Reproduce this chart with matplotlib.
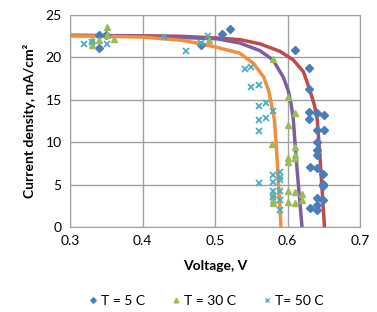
import matplotlib
matplotlib.use('Agg')
import matplotlib.pyplot as plt
from matplotlib.lines import Line2D

plt.rcParams['font.family'] = ['Lato', 'DejaVu Sans']

# measured points
T5_V = [0.340, 0.340, 0.349, 0.480, 0.510, 0.520, 0.610, 0.630, 0.630, 0.630, 0.640, 0.650,
        0.630, 0.640, 0.650, 0.640, 0.640, 0.641, 0.631, 0.640, 0.649, 0.649, 0.649, 0.640,
        0.649, 0.631, 0.640, 0.640]
T5_J = [22.7, 21.1, 22.6, 21.5, 22.8, 23.3, 20.9, 18.8, 16.3, 13.6, 13.4, 13.2,
        12.7, 11.4, 11.4, 10.0, 9.1, 8.5, 7.1, 6.9, 6.3, 5.1, 4.8, 3.4,
        3.2, 2.2, 2.0, 2.6]

T30_V = [0.351, 0.351, 0.340, 0.330, 0.360, 0.330, 0.492, 0.580, 0.601, 0.610, 0.601, 0.579,
         0.610, 0.610, 0.601, 0.601, 0.610, 0.601, 0.610, 0.620, 0.580, 0.601, 0.610, 0.620,
         0.580, 0.580]
T30_J = [23.6, 22.6, 22.1, 22.1, 22.2, 21.5, 22.0, 19.8, 15.3, 13.5, 12.0, 9.8,
         9.4, 8.5, 8.1, 7.7, 8.1, 4.3, 4.1, 3.9, 3.2, 3.0, 2.8, 3.2,
         3.9, 2.8]

T50_V = [0.319, 0.330, 0.351, 0.430, 0.460, 0.480, 0.490, 0.541, 0.550, 0.550, 0.560, 0.560,
         0.570, 0.560, 0.570, 0.580, 0.560, 0.561, 0.580, 0.590, 0.580, 0.590, 0.580, 0.590,
         0.580, 0.590, 0.590, 0.590]
T50_J = [21.6, 21.8, 21.6, 22.4, 20.7, 21.7, 22.5, 18.6, 18.9, 16.5, 16.7, 14.3,
         14.6, 12.6, 12.8, 13.7, 11.3, 5.2, 6.1, 6.5, 5.3, 5.5, 4.3, 4.3,
         3.5, 3.2, 2.0, 5.9]

# fitted curves
FIT5_V = [0.30, 0.40, 0.45, 0.50, 0.534, 0.562, 0.590, 0.608, 0.622, 0.631, 0.637, 0.641, 0.645, 0.648, 0.651]
FIT5_J = [22.6, 22.55, 22.5, 22.3, 22.1, 21.6, 20.7, 19.7, 18.3, 16.1, 14.4, 12.7, 8.0, 4.0, 0.0]
FIT30_V = [0.30, 0.40, 0.45, 0.502, 0.534, 0.562, 0.580, 0.594, 0.601, 0.605, 0.608, 0.612, 0.616, 0.620]
FIT30_J = [22.6, 22.5, 22.35, 22.2, 21.7, 20.8, 19.7, 17.7, 16.1, 14.5, 12.7, 8.0, 4.0, 0.0]
FIT50_V = [0.30, 0.40, 0.456, 0.480, 0.502, 0.534, 0.553, 0.567, 0.574, 0.579, 0.582, 0.585, 0.588, 0.591]
FIT50_J = [22.55, 22.4, 22.0, 21.6, 21.2, 20.5, 19.3, 17.7, 16.1, 14.0, 12.6, 9.0, 4.5, 0.0]

BLUE = '#4a7ebb'
GREEN = '#9bbb59'
TEAL = '#4bacc6'
RED = '#be4b48'
PURPLE = '#7d5fa0'
ORANGE = '#f0903c'

fig = plt.figure(figsize=(3.77, 3.12), dpi=100)
ax = fig.add_axes([70 / 377, 1 - 227 / 312, 290 / 377, 212 / 312])

ax.plot(FIT5_V, FIT5_J, color=RED, lw=2.5, solid_joinstyle='round', zorder=2)
ax.plot(FIT30_V, FIT30_J, color=PURPLE, lw=2.5, solid_joinstyle='round', zorder=2)
ax.plot(FIT50_V, FIT50_J, color=ORANGE, lw=2.5, solid_joinstyle='round', zorder=2)

ax.plot(T5_V, T5_J, ls='none', marker='D', ms=4.2, color=BLUE, mec=BLUE, zorder=3)
ax.plot(T30_V, T30_J, ls='none', marker='^', ms=5, color=GREEN, mec=GREEN, zorder=3)
ax.plot(T50_V, T50_J, ls='none', marker='x', ms=4.5, mew=1.3, color=TEAL, zorder=3)

ax.set_xlim(0.3, 0.7)
ax.set_ylim(0, 25)
ax.set_xticks([0.3, 0.4, 0.5, 0.6, 0.7])
ax.set_xticklabels(['0.3', '0.4', '0.5', '0.6', '0.7'])
ax.set_yticks([0, 5, 10, 15, 20, 25])
ax.tick_params(length=0, labelsize=10, pad=6)
ax.grid(color='#a0a0a0', lw=1)
ax.set_axisbelow(True)
for s in ax.spines.values():
    s.set_color('#a0a0a0')

ax.set_xlabel('Voltage, V', fontsize=10, fontweight='bold', labelpad=9)
ax.set_ylabel('Current density, mA/cm²', fontsize=10, fontweight='bold', labelpad=7)

handles = [
    Line2D([0], [0], ls='none', marker='D', ms=2.8, color=BLUE, label='T = 5 C'),
    Line2D([0], [0], ls='none', marker='^', ms=3.4, color=GREEN, label='T = 30 C'),
    Line2D([0], [0], ls='none', marker='x', ms=3, mew=1, color=TEAL, label='T= 50 C'),
]
fig.legend(handles=handles, loc='center', bbox_to_anchor=(205 / 377, 1 - 301 / 312), ncol=3,
           frameon=False, fontsize=10, handletextpad=0.1, columnspacing=1.8, handlelength=0.9)

fig.savefig('out.png', dpi=100)
